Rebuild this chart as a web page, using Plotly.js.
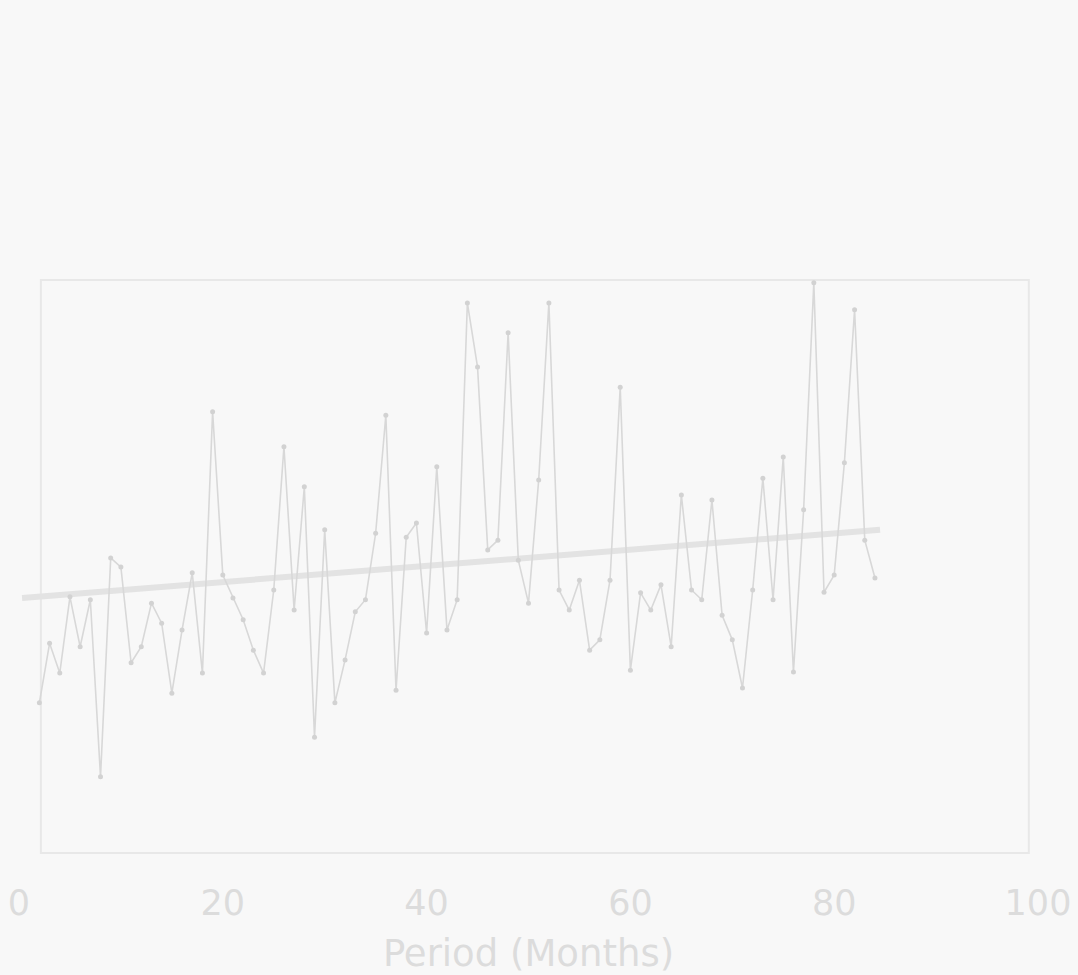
<!DOCTYPE html>
<html>
<head>
<meta charset="utf-8">
<script src="https://cdn.plot.ly/plotly-3.0.1.min.js"></script>
<style>
html,body{margin:0;padding:0;background:#f8f8f8;}
#chart{width:1078px;height:975px;}
</style>
</head>
<body>
<div id="chart"></div>
<script>
// Period in months
var months = [2,3,4,5,6,7,8,9,10,11,12,13,14,15,16,17,18,19,20,21,22,23,24,25,26,27,28,29,30,31,32,33,34,35,36,37,38,39,40,41,42,43,44,45,46,47,48,49,50,51,52,53,54,55,56,57,58,59,60,61,62,63,64,65,66,67,68,69,70,71,72,73,74,75,76,77,78,79,80,81,82,83,84];
// Series values (no y scale printed; relative units 0-100 of plot height)
var values = [26.2,36.6,31.4,44.7,36.0,44.2,13.3,51.5,49.9,33.2,36.0,43.6,40.1,27.9,38.9,48.9,31.4,77.0,48.5,44.5,40.7,35.4,31.4,45.9,70.9,42.4,63.9,20.2,56.4,26.2,33.7,42.1,44.2,55.8,76.4,28.4,55.1,57.6,38.4,67.4,38.9,44.2,96.0,84.8,52.9,54.6,90.8,51.1,43.6,65.1,96.0,45.9,42.4,47.6,35.4,37.2,47.6,81.3,31.9,45.4,42.4,46.8,36.0,62.5,45.9,44.2,61.6,41.5,37.2,28.8,45.9,65.4,44.2,69.1,31.6,59.9,99.5,45.5,48.5,68.1,94.8,54.6,48.0];
// Trend line end points
var trendX = [0.3, 84.5];
var trendY = [44.5, 56.4];
// Tick labels
var tickVals = [0,20,40,60,80,100];
var tickText = ['0','20','40','60','80','100'];
var xTitle = 'Period (Months)';

var faint = '#d8d8d8';
var textCol = '#dcdcdc';

var traces = [
  {
    x: trendX, y: trendY, mode: 'lines', type: 'scatter',
    line: {color: '#e3e3e3', width: 6}, hoverinfo: 'skip', showlegend: false
  },
  {
    x: months, y: values, mode: 'lines+markers', type: 'scatter',
    line: {color: faint, width: 1.6},
    marker: {color: '#d2d2d2', size: 5, symbol: 'circle'},
    showlegend: false, cliponaxis: false
  }
];

var layout = {
  width: 1078, height: 975,
  paper_bgcolor: '#f8f8f8', plot_bgcolor: '#f8f8f8',
  margin: {l: 19, r: 40, t: 280, b: 122},
  showlegend: false,
  font: {family: 'DejaVu Sans, sans-serif', color: textCol},
  xaxis: {
    range: [0, 100], tickmode: 'array', tickvals: tickVals, ticktext: tickText,
    showgrid: false, zeroline: false, showline: false, ticks: '',
    tickfont: {size: 35, color: textCol}, ticklabelstandoff: 26,
    title: {text: xTitle, font: {size: 37, color: textCol}, standoff: 20},
    automargin: false
  },
  yaxis: {
    range: [0, 100], showgrid: false, zeroline: false, showline: false,
    showticklabels: false, ticks: '', automargin: false
  },
  shapes: [
    {type: 'rect', xref: 'paper', yref: 'paper', x0: 0.0215, x1: 0.991, y0: 0, y1: 1,
     line: {color: '#e8e8e8', width: 2}, layer: 'below'}
  ]
};

Plotly.newPlot('chart', traces, layout, {displayModeBar: false, staticPlot: true});
</script>
</body>
</html>
